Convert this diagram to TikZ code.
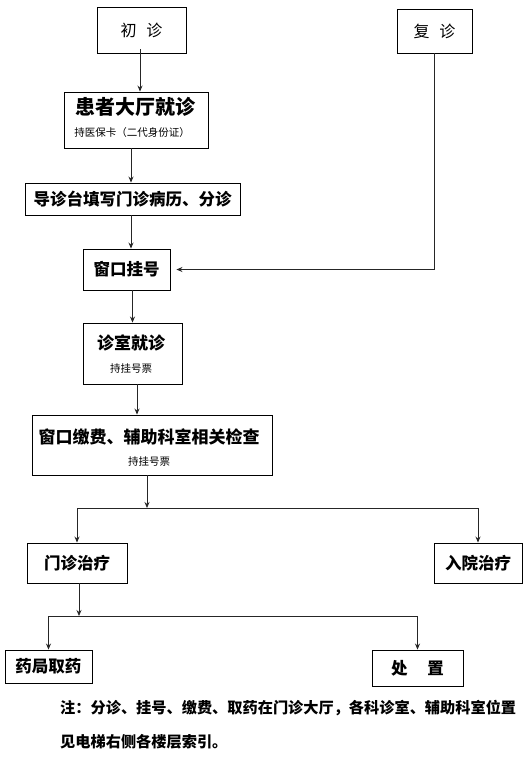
\documentclass[tikz,border=0pt]{standalone}
\usepackage{fontspec}
\setmainfont{Noto Sans CJK SC}
\usetikzlibrary{arrows.meta,calc}
\begin{document}
\begin{tikzpicture}[x=1pt,y=-1pt,
  box/.style={draw=black,line width=0.9pt,rectangle,inner sep=0pt},
  arr/.style={draw=black!85,line width=0.8pt,-{Stealth[length=6pt,width=5pt]}},
  ln/.style={draw=black!85,line width=0.8pt},
  big/.style={font=\fontsize{16}{18}\selectfont},
  bigb/.style={font=\fontsize{16.5}{18}\selectfont\bfseries},
  bigc/.style={font=\fontsize{17}{19}\selectfont\bfseries},
  huge/.style={font=\fontsize{20}{22}\selectfont\bfseries},
  small/.style={font=\fontsize{10.5}{12}\selectfont},
  note/.style={font=\fontsize{15.2}{17}\selectfont\bfseries,anchor=west,inner sep=0pt}]
\useasboundingbox[fill=white] (0,0) rectangle (529,758);

\node[box,minimum width=89pt,minimum height=46pt,big] (chu) at (141.5,30) {初\hspace{0.6em}诊};
\node[box,minimum width=75pt,minimum height=44pt,big] (fu) at (434.5,31) {复\hspace{0.6em}诊};

\node[box,minimum width=144pt,minimum height=56pt] (hz) at (136,120) {};
\node[huge,inner sep=0pt] (hzt) at (135,107) {患者大厅就诊};
\node[small,inner sep=0pt] (hzs) at (132,133) {持医保卡（二代身份证）};

\node[box,minimum width=215pt,minimum height=32pt,bigb] (dao) at (132.5,199) {导诊台填写门诊病历、分诊};
\node[box,minimum width=87pt,minimum height=41pt,bigb] (gua) at (126.5,269.5) {窗口挂号};

\node[box,minimum width=99pt,minimum height=61pt] (zs) at (132.5,353.5) {};
\node[bigc,inner sep=0pt] (zst) at (131,343) {诊室就诊};
\node[small,inner sep=0pt] (zss) at (131,369) {持挂号票};

\node[box,minimum width=240pt,minimum height=60pt] (jf) at (152,445) {};
\node[bigc,inner sep=0pt] (jft) at (149,437) {窗口缴费、辅助科室相关检查};
\node[small,inner sep=0pt] (jfs) at (149,462) {持挂号票};

\node[box,minimum width=100pt,minimum height=40pt,bigb] (mz) at (77,563) {门诊治疗};
\node[box,minimum width=88pt,minimum height=40pt,bigb] (ry) at (478,563) {入院治疗};
\node[box,minimum width=87pt,minimum height=33pt,bigb] (yj) at (48.5,666.5) {药局取药};
\node[box,minimum width=91pt,minimum height=36pt,bigb] (cz) at (417.5,668) {处\hspace{1.2em}置};

\node[note] (n1) at (60,708) {注：分诊、挂号、缴费、取药在门诊大厅，各科诊室、辅助科室位置};
\node[note] (n2) at (60,742) {见电梯右侧各楼层索引。};

\coordinate (b1) at (147,508);
\coordinate (b2) at (79,616);

\draw[arr] ([xshift=-1.5pt,yshift=4pt]chu.south) -- ([xshift=-1.5pt]chu.south |- hz.north);
\draw[arr] ([xshift=-5pt]hz.south) -- ([xshift=-5pt]hz.south |- dao.north);
\draw[arr] ([xshift=-1.5pt]dao.south) -- ([xshift=-1.5pt]dao.south |- gua.north);
\draw[arr] (fu.south) |- ([xshift=6pt]gua.east);
\draw[arr] (gua.south -| zs.north) -- (zs.north);
\draw[arr] ([xshift=4.5pt]zs.south) -- ([xshift=4.5pt]zs.south |- jf.north);
\draw[arr] (jf.south -| b1) -- (b1);
\draw[ln] (b1 -| mz.north) -- (b1 -| ry.north);
\draw[arr] (b1 -| mz.north) -- (mz.north);
\draw[arr] (b1 -| ry.north) -- (ry.north);
\draw[arr] (mz.south -| b2) -- (b2);
\draw[ln] (b2 -| yj.north) -- (b2 -| cz.north);
\draw[arr] (b2 -| yj.north) -- (yj.north);
\draw[arr] (b2 -| cz.north) -- (cz.north);
\end{tikzpicture}
\end{document}
